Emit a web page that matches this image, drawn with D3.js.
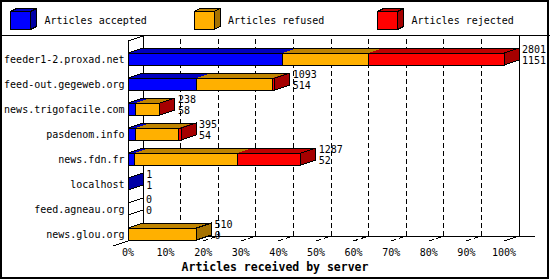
<!DOCTYPE html>
<html>
<head>
<meta charset="utf-8">
<script src="https://cdn.jsdelivr.net/npm/d3@7"></script>
<style>
  body { margin: 0; background: #fff; }
  svg { display: block; font-family: "DejaVu Sans Mono", monospace; shape-rendering: crispEdges; }
</style>
</head>
<body>
<div id="chart"></div>
<script>
// Données
const servers = ["feeder1-2.proxad.net", "feed-out.gegeweb.org", "news.trigofacile.com", "pasdenom.info",
  "news.fdn.fr", "localhost", "feed.agneau.org", "news.glou.org"];
const accepted = [1151, 514, 58, 54, 52, 1, 0, 0];
const refused = [639, 564, 177, 321, 762, 0, 0, 510];
const rejected = [1011, 15, 3, 20, 473, 0, 0, 0];
const seriesNames = ["Articles accepted", "Articles refused", "Articles rejected"];
const seriesColors = ["#0000ff", "#ffb000", "#ff0000"];
const percentTicks = [0, 10, 20, 30, 40, 50, 60, 70, 80, 90, 100];

const width = 550;
const height = 280;
const dx = 15; // profondeur 3D
const dy = 5;
const barH = 12;
const wallTop = 36;
const floorY = 241;

const shade = (c, k) => {
  const r = d3.rgb(c);
  return d3.rgb(r.r * k, r.g * k, r.b * k).formatHex();
};

const svg = d3.select("#chart").append("svg")
  .attr("width", width)
  .attr("height", height);

// Cadre + séparation de la légende
svg.append("rect")
  .attr("x", 1).attr("y", 1).attr("width", width - 3).attr("height", height - 3)
  .style("fill", "none").style("stroke", "black").style("stroke-width", 2);
svg.append("line")
  .attr("x1", 0).attr("x2", width).attr("y1", 35.5).attr("y2", 35.5)
  .style("stroke", "black");

// Légende
seriesNames.forEach((name, i) => {
  const bx = 10.5 + i * 183.5;
  const by = 11.5;
  const g = svg.append("g");
  g.append("polygon")
    .attr("points", [[bx, by], [bx + 20, by], [bx + 26, by - 3], [bx + 6, by - 3]].join(" "))
    .style("fill", shade(seriesColors[i], 0.75)).style("stroke", "black");
  g.append("polygon")
    .attr("points", [[bx + 20, by], [bx + 26, by - 3], [bx + 26, by + 15], [bx + 20, by + 18]].join(" "))
    .style("fill", shade(seriesColors[i], 0.65)).style("stroke", "black");
  g.append("rect")
    .attr("x", bx).attr("y", by).attr("width", 20).attr("height", 18)
    .style("fill", seriesColors[i]).style("stroke", "black");
  g.append("text")
    .attr("x", bx + 34).attr("y", 24)
    .style("font-size", "10px")
    .text(name);
});

// Échelles
const totals = servers.map((s, i) => accepted[i] + refused[i] + rejected[i]);
const maxTotal = d3.max(totals);
const pct = (v) => (v / maxTotal) * 100;

const x = d3.scaleLinear().domain([0, 100]).range([128, 504]);
const y = d3.scalePoint().domain(servers).range([59, 234]);

// Mur du fond et grille
percentTicks.forEach((t) => {
  const xf = x(t);
  const path = d3.path();
  path.moveTo(xf, floorY);
  path.lineTo(xf + dx, floorY - dy);
  path.lineTo(xf + dx, wallTop);
  svg.append("path")
    .attr("d", path.toString())
    .style("fill", "none")
    .style("stroke", "black")
    .style("stroke-dasharray", t === 0 || t === 100 ? null : "5,3");
});

svg.append("line")
  .attr("x1", x(0) + dx).attr("x2", 535)
  .attr("y1", floorY - dy).attr("y2", floorY - dy)
  .style("stroke", "black");
svg.append("line")
  .attr("x1", x(0)).attr("x2", x(0))
  .attr("y1", floorY).attr("y2", wallTop + dy)
  .style("stroke", "black");
svg.append("line")
  .attr("x1", x(0)).attr("x2", x(0) + dx)
  .attr("y1", wallTop + dy).attr("y2", wallTop)
  .style("stroke", "black");
svg.append("line")
  .attr("x1", x(0) - dx).attr("x2", x(0))
  .attr("y1", floorY + dy).attr("y2", floorY)
  .style("stroke", "black");

// Étiquettes de l'axe
svg.selectAll(".tick-label")
  .data(percentTicks)
  .enter()
  .append("text")
  .attr("class", "tick-label")
  .attr("x", (d) => x(d))
  .attr("y", 256)
  .attr("text-anchor", "middle")
  .style("font-size", "10px")
  .text((d) => d + "%");

svg.append("text")
  .attr("x", width / 2)
  .attr("y", 271)
  .attr("text-anchor", "middle")
  .style("font-size", "11.5px")
  .style("font-weight", "bold")
  .text("Articles received by server");

// Barres empilées en 3D
servers.forEach((server, i) => {
  const c = y(server);
  const top = c - barH / 2;
  const bottom = c + barH / 2;
  const values = [accepted[i], refused[i], rejected[i]];
  const g = svg.append("g");

  let start = 0;
  const segs = values.map((v, k) => {
    const s = { k: k, v: v, x0: x(start), x1: x(start + pct(v)) };
    start += pct(v);
    return s;
  });
  const xEnd = x(start);
  const visible = segs.filter((s) => s.v > 0);

  // faces du dessus
  visible.forEach((s) => {
    g.append("polygon")
      .attr("points", [[s.x0, top], [s.x1, top], [s.x1 + dx, top - dy], [s.x0 + dx, top - dy]].join(" "))
      .style("fill", shade(seriesColors[s.k], 0.75));
  });
  g.append("polygon")
    .attr("points", [[x(0), top], [xEnd, top], [xEnd + dx, top - dy], [x(0) + dx, top - dy]].join(" "))
    .style("fill", "none").style("stroke", "black");

  // face de côté
  const last = visible[visible.length - 1];
  g.append("polygon")
    .attr("points", [[xEnd, top], [xEnd + dx, top - dy], [xEnd + dx, bottom - dy], [xEnd, bottom]].join(" "))
    .style("fill", last ? shade(seriesColors[last.k], 0.65) : "white")
    .style("stroke", "black");

  // faces avant
  visible.forEach((s) => {
    g.append("rect")
      .attr("x", s.x0).attr("y", top)
      .attr("width", s.x1 - s.x0).attr("height", barH)
      .style("fill", seriesColors[s.k]).style("stroke", "black");
  });

  // étiquettes
  svg.append("text")
    .attr("x", 124.5).attr("y", c + 3.5)
    .attr("text-anchor", "end")
    .style("font-size", "10px")
    .text(server);
  svg.append("text")
    .attr("x", xEnd + dx + 3).attr("y", c - 6)
    .style("font-size", "10px")
    .text(totals[i]);
  svg.append("text")
    .attr("x", xEnd + dx + 3).attr("y", c + 5)
    .style("font-size", "10px")
    .text(accepted[i]);
});
</script>
</body>
</html>
